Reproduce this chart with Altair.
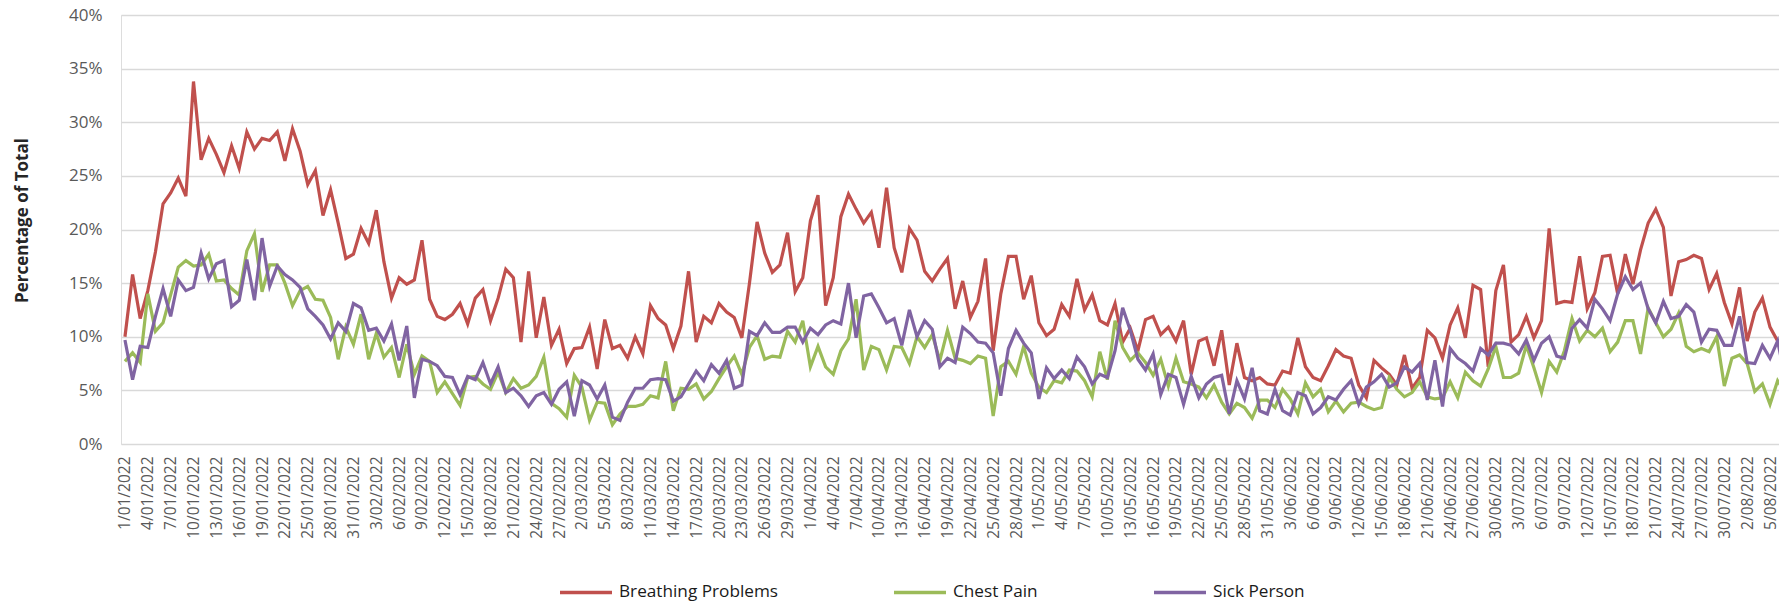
import altair as alt
import pandas as pd

start_date = "2022-01-01"
n_days = 219
series_names = ["Breathing Problems", "Chest Pain", "Sick Person"]
series_colors = ["#C0504D", "#9BBB59", "#8064A2"]

breathing = [10.0, 15.8, 11.7, 14.3, 17.9, 22.4, 23.4, 24.8, 23.1, 33.8,
             26.5, 28.5, 27.0, 25.3, 27.8, 25.7, 29.1, 27.5, 28.5, 28.3,
             29.1, 26.4, 29.4, 27.3, 24.2, 25.5, 21.3, 23.7, 20.6, 17.3,
             17.7, 20.1, 18.7, 21.8, 17.0, 13.6, 15.5, 14.9, 15.3, 19.0,
             13.5, 11.9, 11.6, 12.1, 13.1, 11.2, 13.6, 14.4, 11.5, 13.6,
             16.3, 15.5, 9.5, 16.1, 9.9, 13.7, 9.2, 10.7, 7.5, 8.9,
             9.0, 10.9, 7.0, 11.6, 8.9, 9.2, 8.0, 10.0, 8.4, 12.9,
             11.7, 11.1, 8.9, 11.0, 16.1, 9.5, 11.9, 11.3, 13.1, 12.3,
             11.8, 9.9, 15.0, 20.7, 17.8, 16.0, 16.7, 19.7, 14.2, 15.5,
             20.8, 23.2, 12.9, 15.5, 21.2, 23.3, 21.9, 20.6, 21.6, 18.3,
             23.9, 18.3, 16.0, 20.1, 19.0, 16.1, 15.2, 16.3, 17.3, 12.6,
             15.2, 11.8, 13.3, 17.3, 8.7, 14.0, 17.5, 17.5, 13.5, 15.7,
             11.3, 10.1, 10.7, 13.0, 11.9, 15.4, 12.5, 13.9, 11.5, 11.1,
             13.1, 9.5, 10.8, 8.7, 11.6, 11.9, 10.2, 10.9, 9.6, 11.5,
             6.5, 9.6, 9.9, 7.3, 10.6, 5.5, 9.4, 6.2, 5.9, 6.2,
             5.6, 5.5, 6.8, 6.6, 9.9, 7.2, 6.2, 5.9, 7.3, 8.8,
             8.2, 8.0, 5.5, 4.3, 7.8, 7.1, 6.5, 5.5, 8.3, 5.2,
             6.2, 10.6, 9.9, 8.0, 11.1, 12.7, 9.9, 14.8, 14.4, 7.2,
             14.3, 16.7, 9.5, 10.2, 11.9, 9.9, 11.5, 20.1, 13.1, 13.3,
             13.2, 17.5, 12.6, 14.1, 17.5, 17.6, 14.0, 17.7, 14.9, 18.1,
             20.6, 21.9, 20.2, 13.8, 17.0, 17.2, 17.6, 17.3, 14.4, 15.9,
             13.2, 11.2, 14.6, 9.6, 12.3, 13.6, 10.9, 9.6, 9.5]

chest = [7.7, 8.5, 7.6, 14.0, 10.5, 11.3, 13.9, 16.5, 17.1, 16.6,
         16.7, 17.7, 15.2, 15.3, 14.5, 13.9, 18.0, 19.6, 14.2, 16.7,
         16.7, 15.0, 12.9, 14.3, 14.7, 13.5, 13.4, 11.8, 7.9, 10.9,
         9.3, 12.1, 7.9, 10.3, 8.1, 9.0, 6.2, 9.3, 6.5, 8.2,
         7.7, 4.8, 5.8, 4.7, 3.6, 6.2, 6.3, 5.6, 5.1, 6.7,
         4.8, 6.1, 5.2, 5.5, 6.3, 8.1, 3.8, 3.3, 2.5, 6.4,
         5.3, 2.2, 3.9, 3.8, 1.8, 2.8, 3.5, 3.5, 3.7, 4.5,
         4.3, 7.7, 3.1, 5.2, 5.1, 5.6, 4.2, 4.9, 6.1, 7.2,
         8.2, 6.5, 9.0, 10.1, 7.9, 8.2, 8.1, 10.5, 9.5, 11.5,
         7.2, 9.1, 7.2, 6.5, 8.7, 9.8, 13.5, 6.9, 9.1, 8.8,
         6.9, 9.1, 9.0, 7.5, 10.0, 9.0, 10.2, 7.8, 10.6, 8.0,
         7.8, 7.5, 8.2, 8.0, 2.6, 7.2, 7.7, 6.5, 9.1, 6.6,
         5.3, 4.8, 5.9, 5.7, 6.9, 6.8, 5.9, 4.4, 8.6, 6.0,
         11.5, 9.0, 7.8, 8.5, 7.6, 6.4, 7.9, 5.4, 8.0, 5.8,
         5.6, 5.3, 4.3, 5.5, 3.9, 2.8, 3.8, 3.4, 2.4, 4.1,
         4.1, 3.4, 5.1, 4.2, 2.8, 5.7, 4.4, 5.1, 3.0, 4.0,
         3.0, 3.8, 3.9, 3.5, 3.2, 3.4, 6.2, 5.1, 4.4, 4.8,
         5.8, 4.4, 4.2, 4.3, 5.8, 4.3, 6.7, 5.9, 5.4, 7.0,
         9.1, 6.2, 6.2, 6.6, 9.2, 7.1, 4.8, 7.7, 6.7, 8.7,
         11.7, 9.6, 10.6, 10.0, 10.8, 8.6, 9.5, 11.5, 11.5, 8.4,
         12.7, 11.3, 10.0, 10.7, 12.2, 9.1, 8.6, 8.9, 8.6, 10.0,
         5.4, 8.0, 8.3, 7.5, 4.9, 5.6, 3.7, 5.9, 4.8]

sick = [9.7, 6.0, 9.1, 9.0, 11.9, 14.5, 11.9, 15.3, 14.3, 14.6,
        17.8, 15.4, 16.8, 17.1, 12.8, 13.4, 17.2, 13.4, 19.2, 14.7,
        16.6, 15.8, 15.3, 14.6, 12.6, 11.9, 11.1, 9.8, 11.3, 10.5,
        13.1, 12.7, 10.6, 10.8, 9.6, 11.2, 7.8, 11.0, 4.3, 7.9,
        7.7, 7.3, 6.3, 6.2, 4.6, 6.3, 6.0, 7.6, 5.6, 7.2,
        4.8, 5.2, 4.5, 3.5, 4.5, 4.8, 3.7, 5.1, 5.8, 2.6,
        5.9, 5.5, 4.2, 5.5, 2.5, 2.2, 3.9, 5.2, 5.2, 6.0,
        6.1, 6.0, 4.0, 4.4, 5.6, 6.8, 5.9, 7.4, 6.6, 7.8,
        5.2, 5.5, 10.5, 10.1, 11.3, 10.4, 10.4, 10.9, 10.9, 9.5,
        10.8, 10.2, 11.1, 11.5, 11.2, 15.0, 9.9, 13.8, 14.0, 12.7,
        11.3, 11.7, 9.2, 12.5, 10.0, 11.5, 10.7, 7.2, 8.0, 7.6,
        10.9, 10.3, 9.5, 9.4, 8.5, 4.5, 8.9, 10.6, 9.4, 8.5,
        4.2, 7.1, 6.1, 6.9, 6.1, 8.1, 7.2, 5.6, 6.5, 6.2,
        8.7, 12.7, 10.6, 7.9, 6.9, 8.4, 4.6, 6.5, 6.2, 3.7,
        6.3, 4.3, 5.6, 6.2, 6.4, 2.8, 5.9, 4.2, 7.1, 3.1,
        2.8, 5.1, 3.1, 2.7, 4.8, 4.5, 2.8, 3.4, 4.4, 4.1,
        5.1, 5.9, 3.7, 5.3, 5.8, 6.5, 5.3, 5.7, 7.2, 6.7,
        7.5, 4.1, 7.8, 3.5, 8.9, 8.0, 7.5, 6.8, 8.9, 8.3,
        9.4, 9.4, 9.2, 8.4, 9.7, 7.8, 9.4, 10.0, 8.2, 8.0,
        10.8, 11.6, 10.8, 13.5, 12.6, 11.5, 14.0, 15.6, 14.4, 15.0,
        12.6, 11.3, 13.3, 11.7, 11.9, 13.0, 12.3, 9.5, 10.7, 10.6,
        9.2, 9.2, 11.9, 7.6, 7.5, 9.2, 8.0, 9.6, 6.1]

dates = pd.date_range(start_date, periods=n_days, freq="D")
date_labels = [f"{d.day}/{d.month:02d}/{d.year}" for d in dates]
tick_idx = list(range(0, n_days, 3))
tick_labels = [date_labels[i] for i in tick_idx]

rows = []
for name, vals in zip(series_names, [breathing, chest, sick]):
    for i, v in enumerate(vals):
        rows.append({"idx": i, "date": date_labels[i], "series": name, "value": v / 100.0})
df = pd.DataFrame(rows)

label_array = "[" + ",".join("'" + s + "'" for s in tick_labels) + "]"

PLOT_W = 1658
PLOT_H = 429
px_per_day = 7.616
x_min = -0.52
x_max = x_min + PLOT_W / px_per_day

chart = alt.Chart(df).mark_line(strokeWidth=3.2, clip=True).encode(
    x=alt.X("idx:Q",
            scale=alt.Scale(domain=[x_min, x_max], nice=False, zero=False),
            axis=alt.Axis(values=tick_idx,
                          labelExpr=label_array + "[round(datum.value/3)]",
                          labelAngle=270, labelAlign="right", labelBaseline="middle",
                          labelPadding=12, labelFontSize=15.5, labelFont="Open Sans",
                          labelColor="#595959", ticks=False, tickSize=0, domain=False,
                          grid=False, title=None, labelOverlap=False, labelFlush=False)),
    y=alt.Y("value:Q",
            scale=alt.Scale(domain=[0, 0.40], nice=False),
            axis=alt.Axis(values=[0, 0.05, 0.10, 0.15, 0.20, 0.25, 0.30, 0.35, 0.40],
                          format=".0%", labelFontSize=17, labelFont="Open Sans",
                          labelColor="#595959", labelPadding=19, ticks=False, tickSize=0,
                          domain=False, grid=True, gridColor="#D9D9D9", gridWidth=1.5,
                          title="Percentage of Total", titleFont="Open Sans",
                          titleFontSize=17, titleFontWeight="bold", titleColor="#262626",
                          titleAngle=270, titleX=-99, titleY=205,
                          titleAlign="center", titleBaseline="middle")),
    color=alt.Color("series:N",
                    scale=alt.Scale(domain=series_names, range=series_colors),
                    legend=alt.Legend(orient="none", legendX=437, legendY=549,
                                      direction="horizontal", title=None,
                                      symbolType="stroke", symbolSize=2704,
                                      symbolStrokeWidth=3.5, labelFont="Open Sans",
                                      labelFontSize=17.2, labelColor="#1a1a1a",
                                      labelOffset=5, columnPadding=109, padding=0,
                                      labelLimit=400)),
    detail="series:N",
).properties(
    width=PLOT_W,
    height=PLOT_H,
    padding={"left": 113, "top": 7, "right": 0, "bottom": 159},
    autosize=alt.AutoSizeParams(type="none"),
).configure_view(stroke=None).configure(background="white")

chart.save("out.html", embed_options={"renderer": "svg", "actions": False})
